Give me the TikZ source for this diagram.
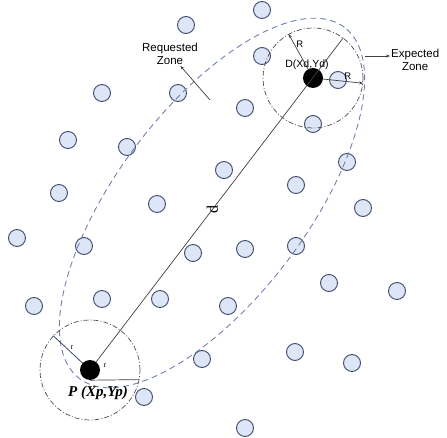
\documentclass[tikz,border=0pt]{standalone}
\usepackage{fontspec}
\setmainfont{Liberation Serif}
\setsansfont{Liberation Sans}
\usetikzlibrary{arrows.meta}
\definecolor{nodefill}{RGB}{221,230,246}
\definecolor{nodeedge}{RGB}{62,74,108}
\definecolor{zoneblue}{RGB}{112,130,172}
\begin{document}
\begin{tikzpicture}[x=1pt,y=-1pt,
  sensor/.style={circle, draw=nodeedge, fill=nodefill, line width=0.9pt, minimum size=17pt, inner sep=0pt},
  bignode/.style={circle, fill=black, minimum size=20pt, inner sep=0pt},
  zonecircle/.style={circle, draw=black!70, line width=0.7pt, minimum size=100pt, inner sep=0pt, dash pattern=on 5pt off 2pt on 1pt off 2pt},
  ellzone/.style={draw=zoneblue, line width=0.9pt, dash pattern=on 6pt off 4pt},
  lbl/.style={font=\sffamily\fontsize{11.5}{13}\selectfont, align=center, inner sep=1pt},
  radline/.style={draw=black!75, line width=0.7pt},
  tip/.style={-{Stealth[length=4pt,width=3pt]}}
]
\useasboundingbox (0,0) rectangle (447,438);

% sensors
\foreach \px/\py [count=\i] in {262/10, 186/25, 262/56, 102/93, 178/93, 245/108, 338/80, 313/124,
  68/140, 127/147, 224/170, 347/162, 59/193, 157/204, 296/185, 363/208,
  17/238, 84/246, 193/253, 245/249, 296/246, 329/283, 397/291,
  34/306, 102/299, 160/299, 228/306, 202/359, 295/352, 352/363, 144/397, 245/428}
  \node[sensor] (s\i) at (\px,\py) {};

% requested zone (ellipse)
\draw[ellzone, shift={(212,203)}, rotate=53] (0,0) ellipse [x radius=220pt, y radius=95pt];

% zones around P and D
\node[zonecircle] (Dzone) at (313,78) {};
\node[zonecircle] (Pzone) at (90,370) {};

% main nodes
\node[bignode] (D) at (313,78) {};
\node[bignode] (P) at (90,370) {};

% distance line
\draw[radline] (P) -- (Dzone.53) node[pos=0.47, rotate=90, font=\rmfamily\fontsize{16}{17}\selectfont, inner sep=0pt] {d};

% radii at D
\draw[radline, tip] (D) -- (Dzone.119) node[pos=0.72, right, font=\sffamily\fontsize{9.5}{10}\selectfont, inner sep=2pt] {R};
\draw[radline, tip] (D) -- (Dzone.-6) node[pos=0.62, above, font=\sffamily\fontsize{9.5}{10}\selectfont, inner sep=2pt] {R};

% radii at P
\draw[draw=nodeedge, line width=0.8pt] (P) -- (Pzone.137) node[pos=0.45, above right, font=\rmfamily\fontsize{8}{9}\selectfont, inner sep=1pt] {r};
\draw[radline] (P.south) -- (Pzone.-11);
\node[font=\rmfamily\fontsize{8}{9}\selectfont, inner sep=0pt] (rlab) at (105,366) {r};

% labels
\node[font=\sffamily\fontsize{10.5}{11}\selectfont, inner sep=0pt] (Dlab) at (307,65) {D(Xd,Yd)};
\node[font=\rmfamily\bfseries\itshape\fontsize{15}{16}\selectfont, inner sep=0pt] (Plab) at (98,393) {P (Xp,Yp)};

\node[lbl] (rq) at (170,54) {Requested\\Zone};
\coordinate (rqa) at (210,100);
\draw[radline, tip] (rqa) -- (rq);

\node[lbl, anchor=west] (ex) at (390,60) {Expected\\Zone};
\coordinate (exa) at (365,56);
\draw[radline, tip] (exa) -- (ex.west |- exa);
\end{tikzpicture}
\end{document}
